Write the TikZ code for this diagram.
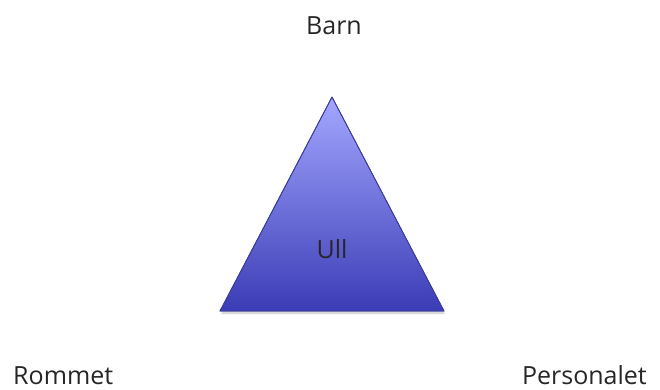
\documentclass[tikz,border=0pt]{standalone}
\usepackage{fontspec}
\setmainfont{Open Sans}
\usetikzlibrary{shadows}

\definecolor{trtop}{HTML}{A4A7FF}
\definecolor{trbot}{HTML}{3B3CB6}
\definecolor{trline}{HTML}{3A3D9A}

\begin{document}
\begin{tikzpicture}
[
	x=1pt,y=-1pt,
	lbl/.style={font=\fontsize{25}{30}\selectfont, text=black!85, inner sep=0pt, anchor=base},
	tri/.style={draw=trline, line width=0.8pt, top color=trtop, bottom color=trbot, line join=round}
]

	\useasboundingbox (0,0) rectangle (660,389);

	% corners of the triangle
	\coordinate (top) at (332,97);
	\coordinate (left) at (220,311);
	\coordinate (right) at (444,311);

	% shadow
	\fill[black, opacity=0.15] (left) ++(1,3) -- ++(224,0) -- ++(-2,-3) -- ++(-220,0) -- cycle;

	% triangle
	\shade[tri] (top) -- (right) -- (left) -- cycle;
	\draw[trline, line width=0.8pt, line join=round] (top) -- (right) -- (left) -- cycle;

	% labels
	\node[lbl] (ull) at (332,258) {Ull};
	\node[lbl] (barn) at (334,34) {Barn};
	\node[lbl, anchor=base west] (rommet) at (13,384) {Rommet};
	\node[lbl, anchor=base east] (personalet) at (647,384) {Personalet};

\end{tikzpicture}
\end{document}
